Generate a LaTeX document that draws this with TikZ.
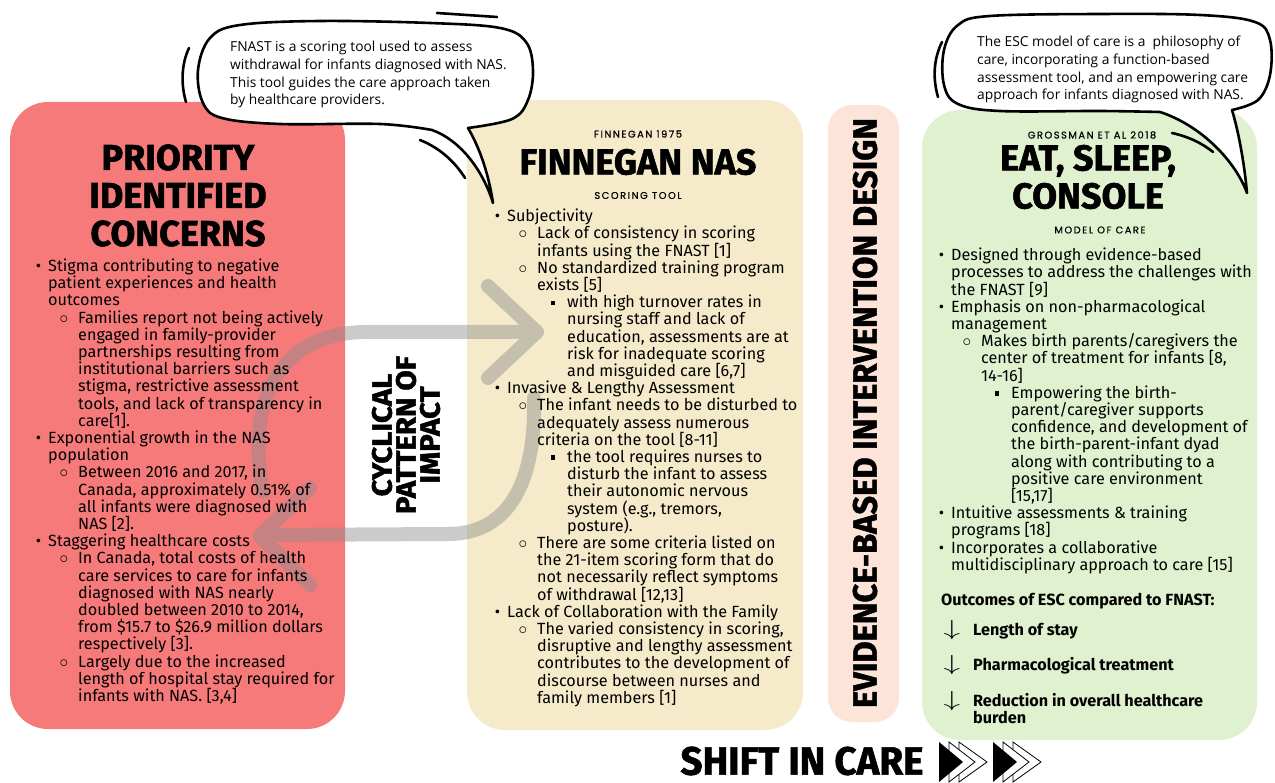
\documentclass[tikz,border=0pt]{standalone}
\usepackage{fontspec}
\usepackage{enumitem}
\usepackage{graphicx}
\setmainfont{Fira Sans}
\newfontfamily\headfont{Fira Sans}[BoldFeatures={FakeBold=1.5}]
\newfontfamily\notefont{Open Sans}
\newfontfamily\tagfont{Poppins}[LetterSpace=16,FakeBold=0.6]
\usetikzlibrary{positioning}

\definecolor{concernred}{RGB}{246,122,122}
\definecolor{fnasbeige}{RGB}{245,234,202}
\definecolor{designpeach}{RGB}{252,229,216}
\definecolor{escgreen}{RGB}{223,241,207}
\definecolor{cyclegray}{RGB}{140,140,140}

% nested bullet lists of the three panels
\newlist{points}{itemize}{3}
\setlist[points]{itemsep=0pt,parsep=0pt,topsep=0pt,partopsep=0pt,align=right}
\setlist[points,1]{label=\smash{\textbullet},leftmargin=18pt,labelsep=7pt}
\setlist[points,2]{label=\smash{$\circ$},leftmargin=30pt,labelsep=10pt}
\setlist[points,3]{label=\smash{\rule[2.5pt]{4.5pt}{4.5pt}},leftmargin=30pt,labelsep=12pt}

\begin{document}
\begin{tikzpicture}[x=1pt,y=-1pt,
  panel/.style={rounded corners=38pt},
  listbox/.style={inner sep=0pt,anchor=base west,font=\fontsize{16.2}{17.2}\selectfont,
    execute at begin node={\begin{minipage}[t]{#1}\raggedright\hyphenpenalty=10000},
    execute at end node={\end{minipage}}},
  headtitle/.style={inner sep=0pt,align=center,font=\headfont\bfseries\fontsize{36}{38}\selectfont},
  tag/.style={inner sep=0pt,font=\tagfont\fontsize{9.8}{10}\selectfont},
  outcome/.style={inner sep=0pt,anchor=base west,font=\bfseries\fontsize{16.2}{17.2}\selectfont},
  downmark/.style={inner sep=0pt,font=\fontsize{20.74}{21}\selectfont},
  bubble/.style={draw=black,fill=white,line width=2.6pt,line join=round,line cap=round},
  scribble/.style={draw=black,line width=2.6pt,line cap=round},
  cyclearrow/.style={draw=cyclegray,line width=14pt,line cap=round,line join=round},
  playfill/.style={fill=black},
  playline/.style={draw=black,line width=0.8pt,fill=white}]

\useasboundingbox (0,0) rectangle (1275,783);
\fill[white] (0,0) rectangle (1275,783);

% panels
\fill[concernred,panel] (10,102) rectangle (345,729);
\fill[fnasbeige,panel] (467,100) rectangle (803,730);
\fill[designpeach,rounded corners=24pt] (828,105) rectangle (899,722);
\fill[escgreen,panel] (922,110) rectangle (1257,740);

% cyclical pattern arrows
\begin{scope}[transparency group,opacity=0.45]
\draw[cyclearrow] (263,492) .. controls (245,400) and (280,333) .. (365,332) -- (532,332);
\draw[cyclearrow] (488,286) -- (537,332) -- (488,378);
\draw[cyclearrow] (534,398) .. controls (536,480) and (510,534) .. (448,534) -- (265,535);
\draw[cyclearrow] (310,488) -- (260,536) -- (310,585);
\end{scope}

\node[rotate=90,xscale=1.05,inner sep=0pt,align=center,
  font=\headfont\bfseries\fontsize{28}{24}\selectfont] (cycletext) at (406,435)
  {CYCLICAL\\PATTERN OF\\IMPACT};

% left panel
\node[headtitle] (concernstitle) at (178,195.5) {PRIORITY\\IDENTIFIED\\CONCERNS};
\node[listbox=330pt] (concernslist) at (30,271.5) {%
\begin{points}
\item Stigma contributing to negative\\ patient experiences and health\\ outcomes
  \begin{points}
  \item Families report not being actively\\ engaged in family-provider\\ partnerships resulting from\\ institutional barriers such as\\ stigma, restrictive assessment\\ tools, and lack of transparency in\\ care[1].
  \end{points}
\item Exponential growth in the NAS\\ population
  \begin{points}
  \item Between 2016 and 2017, in\\ Canada, approximately 0.51\% of\\ all infants were diagnosed with\\ NAS [2].
  \end{points}
\item Staggering healthcare costs
  \begin{points}
  \item In Canada, total costs of health\\ care services to care for infants\\ diagnosed with NAS nearly\\ doubled between 2010 to 2014,\\ from \$15.7 to \$26.9 million dollars\\ respectively [3].
  \item Largely due to the increased\\ length of hospital stay required for\\ infants with NAS. [3,4]
  \end{points}
\end{points}};

% Finnegan panel
\node[tag] (finnyear) at (638,134) {FINNEGAN 1975};
\node[headtitle] (finntitle) at (638,162) {FINNEGAN NAS};
\node[tag] (finntag) at (638,195.5) {SCORING TOOL};
\node[listbox=330pt] (finnlist) at (489,221.7) {%
\begin{points}
\item Subjectivity
  \begin{points}
  \item Lack of consistency in scoring\\ infants using the FNAST [1]
  \item No standardized training program\\ exists [5]
    \begin{points}
    \item with high turnover rates in\\ nursing staff and lack of\\ education, assessments are at\\ risk for inadequate scoring\\ and misguided care [6,7]
    \end{points}
  \end{points}
\item Invasive \& Lengthy Assessment
  \begin{points}
  \item The infant needs to be disturbed to\\ adequately assess numerous\\ criteria on the tool [8-11]
    \begin{points}
    \item the tool requires nurses to\\ disturb the infant to assess\\ their autonomic nervous\\ system (e.g., tremors,\\ posture).
    \end{points}
  \item There are some criteria listed on\\ the 21-item scoring form that do\\ not necessarily reflect symptoms\\ of withdrawal [12,13]
  \end{points}
\item Lack of Collaboration with the Family
  \begin{points}
  \item The varied consistency in scoring,\\ disruptive and lengthy assessment\\ contributes to the development of\\ discourse between nurses and\\ family members [1]
  \end{points}
\end{points}};

% vertical banner
\node[rotate=90,inner sep=0pt] (designtext) at (865,413)
  {\resizebox{590pt}{24pt}{\headfont\bfseries EVIDENCE-BASED INTERVENTION DESIGN}};

% ESC panel
\node[tag] (escyear) at (1092,135) {GROSSMAN ET AL 2018};
\node[headtitle] (esctitle) at (1088,177) {EAT, SLEEP,\\CONSOLE};
\node[tag] (esctag) at (1100,230) {MODEL OF CARE};
\node[listbox=330pt] (esclist) at (933,260.7) {%
\begin{points}
\item Designed through evidence-based\\ processes to address the challenges with\\ the FNAST [9]
\item Emphasis on non-pharmacological\\ management
  \begin{points}
  \item Makes birth parents/caregivers the\\ center of treatment for infants [8,\\ 14-16]
    \begin{points}
    \item Empowering the birth-\\ parent/caregiver supports\\ confidence, and development of\\ the birth-parent-infant dyad\\ along with contributing to a\\ positive care environment\\\relax [15,17]
    \end{points}
  \end{points}
\item Intuitive assessments \& training\\ programs [18]
\item Incorporates a collaborative\\ multidisciplinary approach to care [15]
\end{points}};

\node[outcome] (outhead) at (941,605) {Outcomes of ESC compared to FNAST:};
\node[downmark] (down1) at (952,630) {\scalebox{1.6}[1.05]{$\downarrow$}};
\node[downmark] (down2) at (952,665) {\scalebox{1.6}[1.05]{$\downarrow$}};
\node[downmark] (down3) at (952,701) {\scalebox{1.6}[1.05]{$\downarrow$}};
\node[outcome] (stay) at (973,635) {Length of stay};
\node[outcome] (pharma) at (973,670) {Pharmacological treatment};
\node[listbox=260pt,font=\bfseries\fontsize{16.2}{17.2}\selectfont] (burden) at (973,706)
  {Reduction in overall healthcare\\ burden};

% speech bubbles
\draw[bubble] plot[smooth,tension=0.6] coordinates {(468,128) (512,119) (528,100) (533,70)
  (526,42) (500,28) (430,23) (320,21) (240,25) (210,38) (198,70) (203,103) (222,118)
  (280,124) (380,124) (432,130)}
  .. controls (460,140) and (483,170) .. (493,203)
  .. controls (488,170) and (478,145) .. (468,128) -- cycle;
\draw[scribble] (189,48) .. controls (181,65) and (181,85) .. (186,102);
\draw[scribble] (437,13) -- (497,17);
\draw[scribble] (420,140) .. controls (440,148) and (455,162) .. (465,178);
\node[listbox=320pt,font=\notefont\fontsize{13.8}{17.6}\selectfont] (fnastnote) at (230,52)
  {FNAST is a scoring tool used to assess\\ withdrawal for infants diagnosed with NAS.\\ This tool guides the care approach taken\\ by healthcare providers.};

\draw[bubble] plot[smooth,tension=0.6] coordinates {(1232,110) (1258,100) (1270,75)
  (1270,40) (1255,22) (1200,15) (1100,14) (990,16) (958,25) (944,50) (944,85) (958,104)
  (1000,111) (1100,111) (1160,112)}
  .. controls (1200,125) and (1235,160) .. (1247,193)
  .. controls (1244,160) and (1238,130) .. (1232,110) -- cycle;
\draw[scribble] (942,42) .. controls (933,60) and (933,80) .. (938,97);
\draw[scribble] (1172,133) .. controls (1190,137) and (1203,144) .. (1213,152);
\node[listbox=320pt,font=\notefont\fontsize{13.8}{17.6}\selectfont] (escnote) at (977,47)
  {The ESC model of care is a~~philosophy of\\ care, incorporating a function-based\\ assessment tool, and an empowering care\\ approach for infants diagnosed with NAS.};

% shift in care
\node[inner sep=0pt] (shift) at (802,761)
  {\resizebox{243pt}{28pt}{\headfont\bfseries SHIFT IN CARE}};
\foreach \gx in {939,993}{
  \draw[playline] (\gx+20,742) -- (\gx+48,762) -- (\gx+20,782) -- cycle;
  \draw[playline] (\gx+10,742) -- (\gx+36,762) -- (\gx+10,782) -- cycle;
  \fill[playfill] (\gx,742) -- (\gx+24,762) -- (\gx,782) -- cycle;
}
\end{tikzpicture}
\end{document}
